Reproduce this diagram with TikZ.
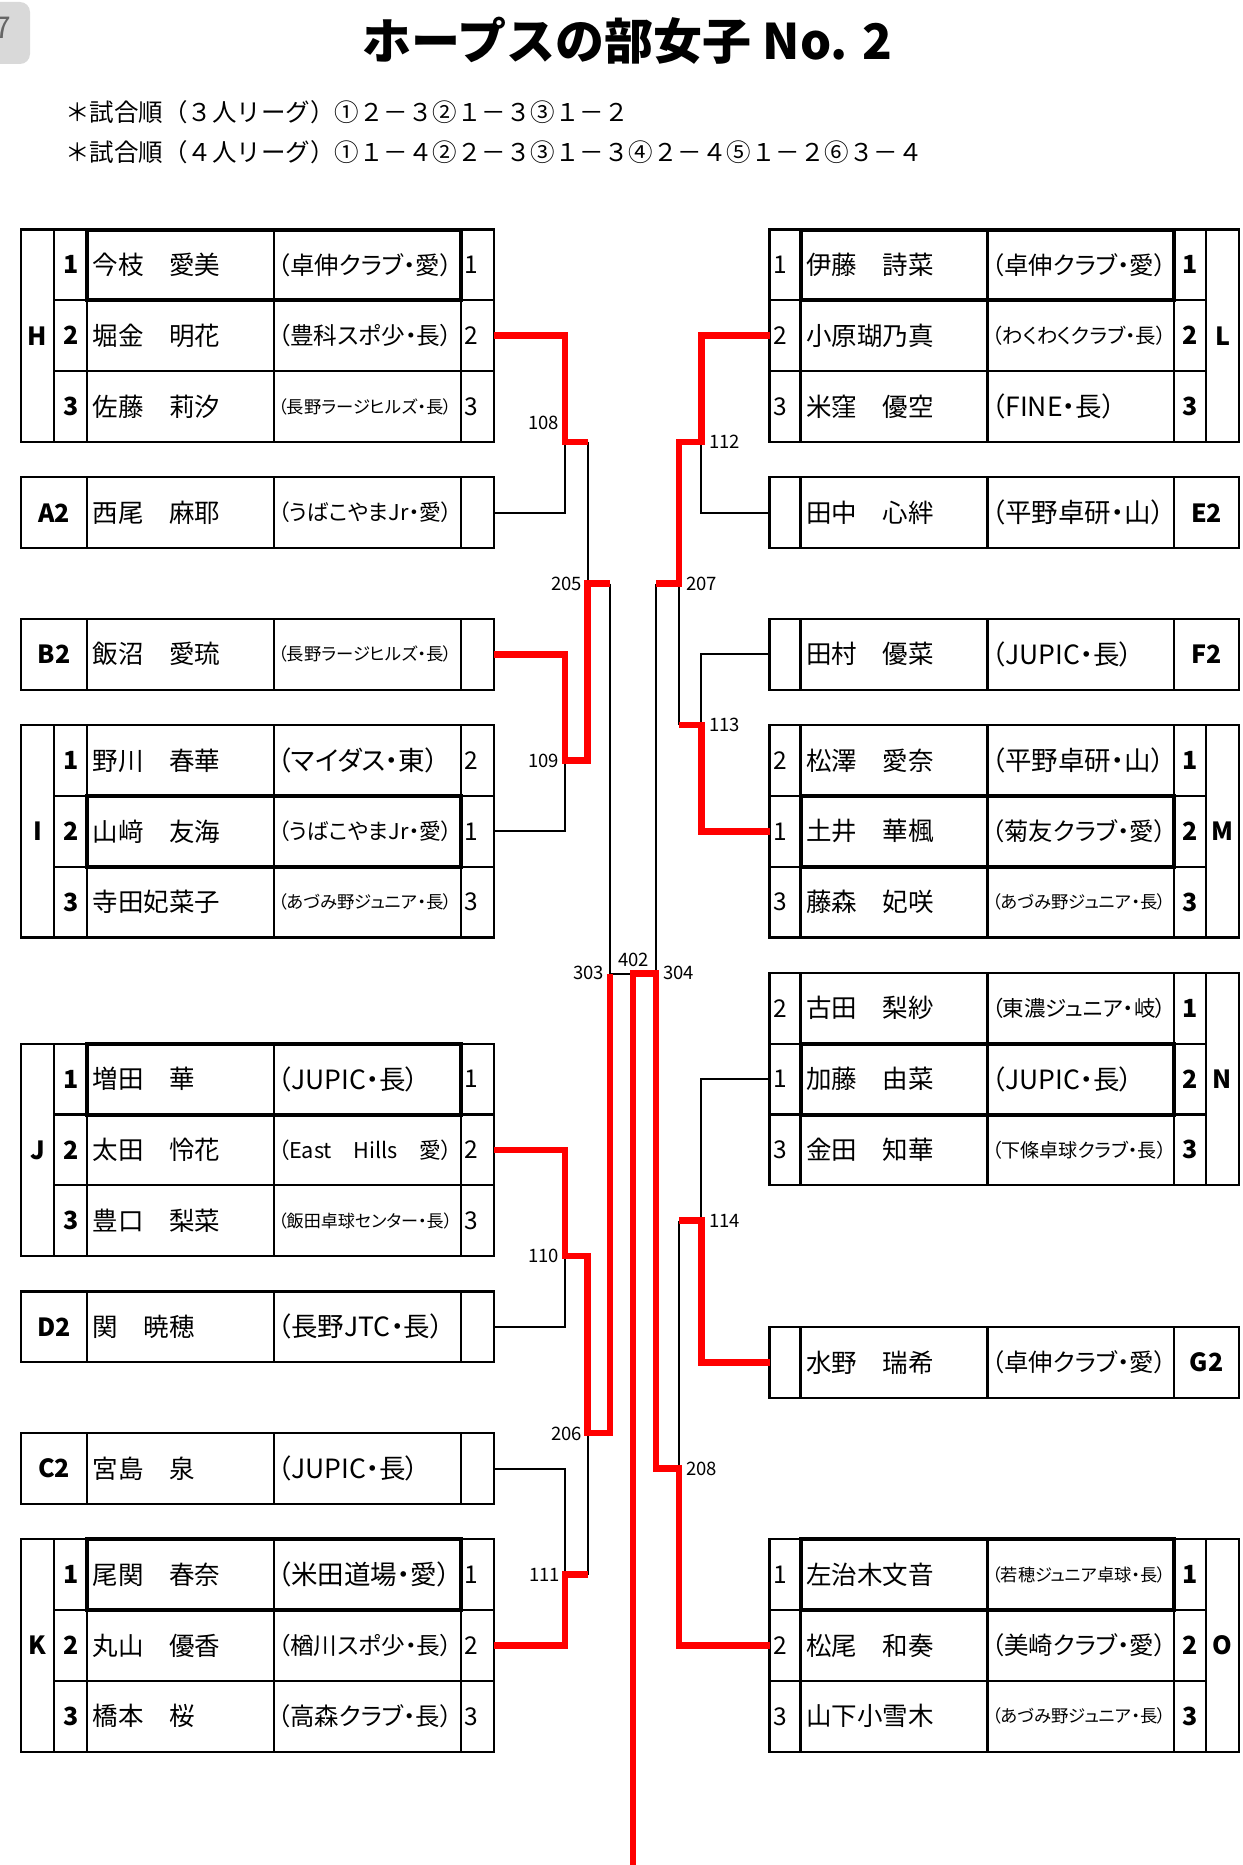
\documentclass[tikz,border=0pt]{standalone}
\usepackage{fontspec}
\usepackage{graphicx}
\setmainfont{Noto Sans CJK JP}
\newfontfamily\paltfont[RawFeature=+palt]{Noto Sans CJK JP}
\newsavebox\fitbox
\newcommand\fitclub[1]{\sbox\fitbox{\paltfont\fontsize{26.5}{31}\selectfont #1}\ifdim\wd\fitbox>174pt\resizebox{174pt}{!}{\usebox\fitbox}\else\usebox\fitbox\fi}
\tikzset{
  tbl/.style={line width=2.2pt, line join=miter},
  thickbox/.style={line width=4pt, line join=miter},
  blk/.style={line width=2pt, black},
  redl/.style={line width=6.5pt, red, line join=miter},
  namet/.style={anchor=west, inner sep=0pt, font=\fontsize{25.5}{30}\selectfont},
  clubt/.style={anchor=west, inner sep=0pt},
  numb/.style={inner sep=0pt, font=\bfseries\fontsize{25}{30}\selectfont},
  numr/.style={anchor=west, inner sep=0pt, font=\fontsize{24.5}{28}\selectfont},
  lbl/.style={inner sep=0pt, font=\fontsize{18.5}{22}\selectfont},
}
% left blocks
\newcommand\LeftBlock[2]{%
  \draw[tbl] (21,#1) rectangle (494,#1+212.4);
  \draw[tbl] (54.3,#1) -- (54.3,#1+212.4) (87,#1) -- (87,#1+212.4)
             (274,#1) -- (274,#1+212.4) (461,#1) -- (461,#1+212.4);
  \draw[tbl] (54.3,#1+70.8) -- (494,#1+70.8) (54.3,#1+141.6) -- (494,#1+141.6);
  \node[numb] (grp#2) at (37.6,#1+106.2) {#2};}
\newcommand\LRow[6]{%
  \node[numb] (#1n) at (70.8,#2+35.4) {#3};
  \node[namet] (#1a) at (92.5,#2+35.4) {#4};
  \node[clubt] (#1c) at (278,#2+35.4) {\fitclub{#5}};
  \node[numr] (#1r) at (464,#2+35.4) {#6};}
\newcommand\LSingle[5]{%
  \draw[tbl] (21,#2) rectangle (494,#2+70.8);
  \draw[tbl] (87,#2) -- (87,#2+70.8) (274,#2) -- (274,#2+70.8) (461,#2) -- (461,#2+70.8);
  \node[numb] (#1l) at (54,#2+35.4) {#3};
  \node[namet] (#1a) at (92.5,#2+35.4) {#4};
  \node[clubt] (#1c) at (278,#2+35.4) {\fitclub{#5}};}
\newcommand\ThickL[1]{\draw[thickbox] (87,#1) rectangle (461,#1+70.8);}
% right blocks
\newcommand\RightBlock[2]{%
  \draw[tbl] (769.5,#1) rectangle (1239,#1+212.4);
  \draw[tbl] (800.5,#1) -- (800.5,#1+212.4) (987.5,#1) -- (987.5,#1+212.4)
             (1174,#1) -- (1174,#1+212.4) (1206,#1) -- (1206,#1+212.4);
  \draw[tbl] (769.5,#1+70.8) -- (1206,#1+70.8) (769.5,#1+141.6) -- (1206,#1+141.6);
  \node[numb] (grp#2) at (1222.5,#1+106.2) {#2};}
\newcommand\RRow[6]{%
  \node[numr] (#1n) at (773,#2+35.4) {#3};
  \node[namet] (#1a) at (806,#2+35.4) {#4};
  \node[clubt] (#1c) at (992,#2+35.4) {\fitclub{#5}};
  \node[numb] (#1r) at (1190,#2+35.4) {#6};}
\newcommand\RSingle[5]{%
  \draw[tbl] (769.5,#2) rectangle (1239,#2+70.8);
  \draw[tbl] (800.5,#2) -- (800.5,#2+70.8) (987.5,#2) -- (987.5,#2+70.8) (1174,#2) -- (1174,#2+70.8);
  \node[numb] (#1l) at (1206.5,#2+35.4) {#3};
  \node[namet] (#1a) at (806,#2+35.4) {#4};
  \node[clubt] (#1c) at (992,#2+35.4) {\fitclub{#5}};}
\newcommand\ThickR[1]{\draw[thickbox] (800.5,#1) rectangle (1174,#1+70.8);}

\begin{document}
\begin{tikzpicture}[x=1pt,y=-1pt]
\useasboundingbox (0,0) rectangle (1242,1865);
\fill[white] (0,0) rectangle (1242,1865);
% page tab
\fill[gray!30, rounded corners=10pt] (-30,2) rectangle (30,64);
\node[anchor=east, inner sep=0pt, text=black!60, font=\fontsize{30}{34}\selectfont] (tab) at (11,28) {7};
% title and notes
\node[inner sep=0pt, font=\bfseries\fontsize{49}{56}\selectfont] (title) at (627.5,41) {ホープスの部女子 No. 2};
\node[anchor=west, inner sep=0pt, font=\fontsize{24.5}{29}\selectfont] (note1) at (65,112.5) {＊試合順（３人リーグ）①２－３②１－３③１－２};
\node[anchor=west, inner sep=0pt, font=\fontsize{24.5}{29}\selectfont] (note2) at (65,152) {＊試合順（４人リーグ）①１－４②２－３③１－３④２－４⑤１－２⑥３－４};

% ---------- left side ----------
\LeftBlock{229.5}{H}
\LRow{H1}{229.5}{1}{今枝　愛美}{（卓伸クラブ・愛）}{1}
\LRow{H2}{300.3}{2}{堀金　明花}{（豊科スポ少・長）}{2}
\LRow{H3}{371.1}{3}{佐藤　莉汐}{（長野ラージヒルズ・長）}{3}
\ThickL{229.5}
\LSingle{A2}{477.3}{A2}{西尾　麻耶}{（うばこやまJr・愛）}
\LSingle{B2}{618.9}{B2}{飯沼　愛琉}{（長野ラージヒルズ・長）}
\LeftBlock{725.1}{I}
\LRow{I1}{725.1}{1}{野川　春華}{（マイダス・東）}{2}
\LRow{I2}{795.9}{2}{山﨑　友海}{（うばこやまJr・愛）}{1}
\LRow{I3}{866.7}{3}{寺田妃菜子}{（あづみ野ジュニア・長）}{3}
\ThickL{795.9}
\LeftBlock{1043.7}{J}
\LRow{J1}{1043.7}{1}{増田　華}{（JUPIC・長）}{1}
\LRow{J2}{1114.5}{2}{太田　怜花}{（East　Hills　愛）}{2}
\LRow{J3}{1185.3}{3}{豊口　梨菜}{（飯田卓球センター・長）}{3}
\ThickL{1043.7}
\LSingle{D2}{1291.5}{D2}{関　暁穂}{（長野JTC・長）}
\LSingle{C2}{1433.1}{C2}{宮島　泉}{（JUPIC・長）}
\LeftBlock{1539.3}{K}
\LRow{K1}{1539.3}{1}{尾関　春奈}{（米田道場・愛）}{1}
\LRow{K2}{1610.1}{2}{丸山　優香}{（楢川スポ少・長）}{2}
\LRow{K3}{1680.9}{3}{橋本　桜}{（高森クラブ・長）}{3}
\ThickL{1539.3}

% ---------- right side ----------
\RightBlock{229.5}{L}
\RRow{L1}{229.5}{1}{伊藤　詩菜}{（卓伸クラブ・愛）}{1}
\RRow{L2}{300.3}{2}{小原瑚乃真}{（わくわくクラブ・長）}{2}
\RRow{L3}{371.1}{3}{米窪　優空}{（FINE・長）}{3}
\ThickR{229.5}
\RSingle{E2}{477.3}{E2}{田中　心絆}{（平野卓研・山）}
\RSingle{F2}{618.9}{F2}{田村　優菜}{（JUPIC・長）}
\RightBlock{725.1}{M}
\RRow{M1}{725.1}{2}{松澤　愛奈}{（平野卓研・山）}{1}
\RRow{M2}{795.9}{1}{土井　華楓}{（菊友クラブ・愛）}{2}
\RRow{M3}{866.7}{3}{藤森　妃咲}{（あづみ野ジュニア・長）}{3}
\ThickR{795.9}
\RightBlock{972.9}{N}
\RRow{N1}{972.9}{2}{古田　梨紗}{（東濃ジュニア・岐）}{1}
\RRow{N2}{1043.7}{1}{加藤　由菜}{（JUPIC・長）}{2}
\RRow{N3}{1114.5}{3}{金田　知華}{（下條卓球クラブ・長）}{3}
\ThickR{1043.7}
\RSingle{G2}{1326.9}{G2}{水野　瑞希}{（卓伸クラブ・愛）}
\RightBlock{1539.3}{O}
\RRow{O1}{1539.3}{1}{左治木文音}{（若穂ジュニア卓球・長）}{1}
\RRow{O2}{1610.1}{2}{松尾　和奏}{（美崎クラブ・愛）}{2}
\RRow{O3}{1680.9}{3}{山下小雪木}{（あづみ野ジュニア・長）}{3}
\ThickR{1539.3}

% ---------- ports and junctions ----------
\coordinate (pH) at (494,335.7);
\coordinate (pA) at (494,512.7);
\coordinate (pB) at (494,654.3);
\coordinate (pI) at (494,831.3);
\coordinate (pJ) at (494,1149.9);
\coordinate (pD) at (494,1326.9);
\coordinate (pC) at (494,1468.5);
\coordinate (pK) at (494,1645.5);
\coordinate (pL) at (769.5,335.7);
\coordinate (pE) at (769.5,512.7);
\coordinate (pF) at (769.5,654.3);
\coordinate (pM) at (769.5,831.3);
\coordinate (pN) at (769.5,1079.1);
\coordinate (pG) at (769.5,1362.3);
\coordinate (pO) at (769.5,1645.5);

\coordinate (j108) at (565,441.9);
\coordinate (j109) at (565,760.5);
\coordinate (j110) at (565,1256.1);
\coordinate (j111) at (565,1574.7);
\coordinate (s108) at (587.5,441.9);
\coordinate (s109) at (587.5,760.5);
\coordinate (s110) at (587.5,1256.1);
\coordinate (s111) at (587.5,1574.7);
\coordinate (j205) at (587.5,583.5);
\coordinate (j206) at (587.5,1433.1);
\coordinate (s205) at (610,583.5);
\coordinate (s206) at (610,1433.1);
\coordinate (j303) at (610,973.5);
\coordinate (j402) at (633,973.5);
\coordinate (j304) at (656,973.5);
\coordinate (s207) at (656,583.5);
\coordinate (s208) at (656,1468.5);
\coordinate (j207) at (679,583.5);
\coordinate (j208) at (679,1468.5);
\coordinate (s112) at (679,441.9);
\coordinate (s113) at (679,725.1);
\coordinate (s114) at (679,1220.7);
\coordinate (j112) at (701.3,441.9);
\coordinate (j113) at (701.3,725.1);
\coordinate (j114) at (701.3,1220.7);
\coordinate (bot) at (633,1866);

% black connectors
\draw[blk] (pA) -| (j108);
\draw[blk] (s108) -- (j205);
\draw[blk] (pI) -| (j109);
\draw[blk] (s205) -- (j303);
\draw[blk] (pD) -| (j110);
\draw[blk] (pC) -| (j111);
\draw[blk] (s111) -- (j206);
\draw[blk] (j303) -- (j402);
\draw[blk] (pE) -| (j112);
\draw[blk] (pF) -| (j113);
\draw[blk] (s113) -- (j207);
\draw[blk] (s207) -- (j304);
\draw[blk] (pN) -| (j114);
\draw[blk] (s114) -- (j208);

% red (winner) paths
\draw[redl] (pH) -| (j108) -- (s108);
\draw[redl] (pB) -| (j109) -- (s109) -- (j205) -- (s205);
\draw[redl] (pJ) -| (j110) -- (s110) -- (j206) -- (s206) -- (j303);
\draw[redl] (pK) -| (j111) -- (s111);
\draw[redl] (pL) -| (j112) -- (s112) -- (j207) -- (s207);
\draw[redl] (pM) -| (j113) -- (s113);
\draw[redl] (pG) -| (j114) -- (s114);
\draw[redl] (pO) -| (j208) -- (s208) -- (j304) -- (j402) -- (bot);

% match numbers
\node[lbl, anchor=east] (m108) at (559,423.4) {108};
\node[lbl, anchor=east] (m109) at (559,760.5) {109};
\node[lbl, anchor=east] (m110) at (559,1255.5) {110};
\node[lbl, anchor=east] (m111) at (560,1575) {111};
\node[lbl, anchor=east] (m205) at (582,584) {205};
\node[lbl, anchor=east] (m206) at (582,1433.5) {206};
\node[lbl, anchor=east] (m303) at (604,972.5) {303};
\node[lbl] (m402) at (633.5,960) {402};
\node[lbl, anchor=west] (m304) at (663,972.5) {304};
\node[lbl, anchor=west] (m207) at (686,584) {207};
\node[lbl, anchor=west] (m208) at (686,1469) {208};
\node[lbl, anchor=west] (m112) at (709,441.7) {112};
\node[lbl, anchor=west] (m113) at (709,724.5) {113};
\node[lbl, anchor=west] (m114) at (709,1220.5) {114};
\end{tikzpicture}
\end{document}
